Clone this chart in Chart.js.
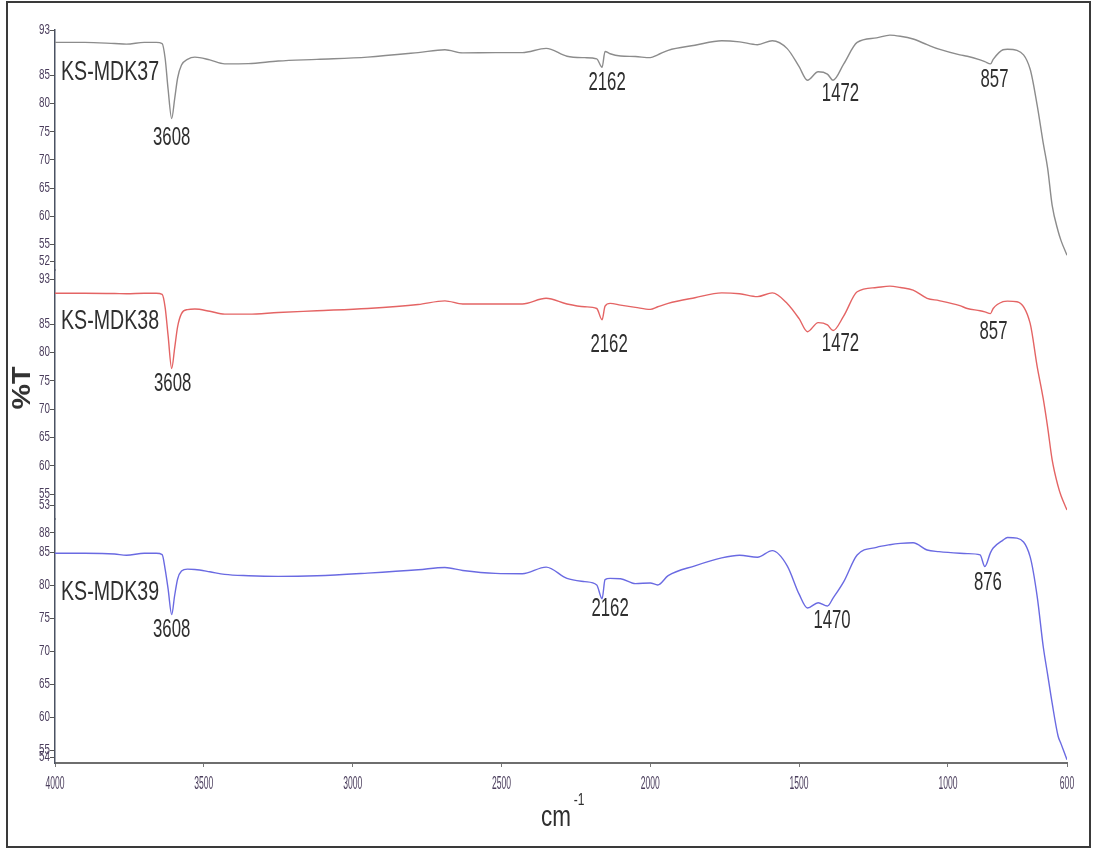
<!DOCTYPE html>
<html>
<head>
<meta charset="utf-8">
<script src="https://cdn.jsdelivr.net/npm/chart.js@4.4.1/dist/chart.umd.min.js"></script>
<style>
  html, body { margin: 0; padding: 0; background: #fff; }
  canvas { display: block; }
</style>
</head>
<body>
<canvas id="grafico-ftir" width="1094" height="850"></canvas>
<script>
// Números de onda (cm-1) comuns aos três espectros
const numerosDeOnda = [
  4000, 3900, 3800, 3760, 3700, 3660, 3640, 3630, 3620, 3608,
  3598, 3588, 3575, 3555, 3530, 3480, 3430, 3350, 3250, 3120,
  2950, 2780, 2690, 2630, 2520, 2430, 2350, 2280, 2220, 2180,
  2162, 2152, 2135, 2100, 2050, 2000, 1975, 1940, 1850, 1760,
  1700, 1640, 1590, 1540, 1500, 1472, 1436, 1405, 1386, 1350,
  1305, 1240, 1195, 1160, 1117, 1070, 1030, 960, 935, 892,
  876, 857, 848, 815, 800, 768, 724, 700, 680, 665,
  650, 630, 620, 600
];

// %T de cada amostra
const transmitancia37 = [
  90.8, 90.8, 90.6, 90.5, 90.8, 90.8, 90.6, 88.0, 82.5, 77.3,
  80.8, 84.5, 86.8, 87.8, 88.2, 87.7, 87.0, 87.05, 87.5, 87.8,
  88.2, 89.0, 89.5, 88.95, 89.0, 89.0, 89.75, 88.35, 88.1, 87.9,
  86.4, 89.2, 88.8, 88.4, 88.3, 88.1, 88.6, 89.4, 90.3, 91.1,
  90.9, 90.4, 91.1, 89.7, 86.5, 84.1, 85.6, 85.2, 84.1, 87.0,
  90.8, 91.6, 92.1, 91.9, 91.4, 90.4, 89.6, 88.6, 88.35, 87.7,
  87.4, 87.0, 87.8, 89.5, 89.6, 89.4, 86.1, 79.6, 73.0, 68.5,
  62.0, 57.4, 55.7, 53.1
];
const transmitancia38 = [
  90.5, 90.5, 90.45, 90.4, 90.5, 90.5, 90.3, 88.0, 83.0, 77.2,
  80.8, 84.6, 86.9, 87.6, 87.7, 87.3, 86.8, 86.8, 87.1, 87.4,
  87.8, 88.5, 89.15, 88.6, 88.6, 88.6, 89.6, 88.6, 88.1, 87.8,
  85.8, 88.2, 88.7, 88.4, 88.0, 87.65, 88.1, 88.7, 89.7, 90.55,
  90.4, 89.9, 90.55, 88.7, 86.0, 83.7, 85.3, 84.9, 83.9, 86.5,
  90.75, 91.5, 91.75, 91.5, 91.05, 89.6, 89.2, 88.3, 87.8, 87.4,
  87.2, 86.9, 87.8, 89.0, 89.1, 89.0, 85.2, 77.5, 71.9, 66.8,
  61.1, 56.4, 54.7, 52.2
];
const transmitancia39 = [
  84.9, 84.9, 84.8, 84.6, 84.9, 84.9, 84.7, 82.5, 79.5, 75.6,
  78.5, 81.0, 82.2, 82.5, 82.45, 82.1, 81.7, 81.5, 81.4, 81.5,
  81.9, 82.4, 82.75, 82.3, 81.85, 81.8, 82.8, 81.1, 80.6, 80.1,
  78.0, 80.9, 81.1, 81.05, 80.3, 80.4, 80.1, 81.5, 83.0, 84.2,
  84.6, 84.3, 85.3, 83.0, 78.7, 76.6, 77.4, 76.9, 78.1, 80.6,
  84.65, 85.8, 86.2, 86.4, 86.5, 85.4, 85.15, 84.9, 84.85, 84.65,
  82.9, 85.0, 85.7, 86.9, 87.3, 87.2, 84.4, 78.3, 70.8, 66.5,
  62.2, 57.2, 56.0, 53.6
];

const amostras = ['KS-MDK37', 'KS-MDK38', 'KS-MDK39'];

// Picos marcados em cada espectro
const picos37 = [3608, 2162, 1472, 857];
const picos38 = [3608, 2162, 1472, 857];
const picos39 = [3608, 2162, 1470, 876];

const ticksX = [4000, 3500, 3000, 2500, 2000, 1500, 1000, 600];
const ticksY37 = [93, 85, 80, 75, 70, 65, 60, 55, 52];
const ticksY38 = [93, 85, 80, 75, 70, 65, 60, 55, 53];
const ticksY39 = [88, 85, 80, 75, 70, 65, 60, 55, 54];

const coresLinhas = ['#8c8c8c', '#e46464', '#6a6ae2'];
const corTexto = '#2f2f2f';
const corTicks = '#4a3d5c';

function pontos(valores) {
  return numerosDeOnda.map((w, i) => ({ x: w, y: valores[i] }));
}

function valorNoPico(valores, pico) {
  let melhor = 0;
  numerosDeOnda.forEach((w, i) => {
    if (Math.abs(w - pico) < Math.abs(numerosDeOnda[melhor] - pico)) melhor = i;
  });
  return valores[melhor];
}

// texto comprimido na horizontal (a fonte do original é bem estreita)
function textoEstreito(ctx, texto, x, y, fonte, escala, alinhamento) {
  ctx.save();
  ctx.translate(x, y);
  ctx.scale(escala, 1);
  ctx.font = fonte;
  ctx.textAlign = alinhamento || 'center';
  ctx.textBaseline = 'middle';
  ctx.fillText(texto, 0, 0);
  ctx.restore();
}

const paineis = [
  { eixo: 'y37', nome: amostras[0], valores: transmitancia37, picos: picos37, ticks: ticksY37,
    desloc: [[0, 19], [5, 16], [33, 14], [4, 16]], nomeTopo: 42 },
  { eixo: 'y38', nome: amostras[1], valores: transmitancia38, picos: picos38, ticks: ticksY38,
    desloc: [[1, 16], [7, 25], [33, 12], [3, 19]], nomeTopo: 51 },
  { eixo: 'y39', nome: amostras[2], valores: transmitancia39, picos: picos39, ticks: ticksY39,
    desloc: [[0, 15], [8, 10], [24, 13], [3, 17]], nomeTopo: 73 }
];

const textosFtir = {
  id: 'textosFtir',
  afterDraw(chart) {
    const ctx = chart.ctx;
    const area = chart.chartArea;
    const escalaX = chart.scales.x;
    ctx.save();
    ctx.fillStyle = corTicks;

    // rótulos dos ticks
    ticksX.forEach(v => {
      textoEstreito(ctx, String(v), escalaX.getPixelForValue(v), area.bottom + 21,
        '19px "Liberation Sans", Arial, sans-serif', 0.45);
    });
    paineis.forEach(p => {
      const escalaY = chart.scales[p.eixo];
      p.ticks.forEach(v => {
        textoEstreito(ctx, String(v), area.left - 5, escalaY.getPixelForValue(v),
          '14px "Liberation Sans", Arial, sans-serif', 0.7, 'right');
      });
    });

    ctx.fillStyle = corTexto;
    paineis.forEach(p => {
      const escalaY = chart.scales[p.eixo];
      // nome da amostra
      textoEstreito(ctx, p.nome, area.left + 6, escalaY.top + p.nomeTopo,
        '28px "Liberation Sans", Arial, sans-serif', 0.7, 'left');
      // números dos picos
      p.picos.forEach((pico, i) => {
        const px = escalaX.getPixelForValue(pico) + p.desloc[i][0];
        const py = escalaY.getPixelForValue(valorNoPico(p.valores, pico)) + p.desloc[i][1];
        textoEstreito(ctx, String(pico), px, py, '25px "Liberation Sans", Arial, sans-serif', 0.67);
      });
    });

    // título do eixo y
    ctx.save();
    ctx.translate(23, 388);
    ctx.rotate(-Math.PI / 2);
    ctx.scale(1.15, 1);
    ctx.font = 'bold 25px "Liberation Sans", Arial, sans-serif';
    ctx.fillStyle = '#333';
    ctx.textAlign = 'center';
    ctx.textBaseline = 'middle';
    ctx.fillText('%T', 0, 0);
    ctx.restore();

    // título do eixo x: cm-1
    textoEstreito(ctx, 'cm', 556, 818, '30px "Liberation Sans", Arial, sans-serif', 0.75);
    textoEstreito(ctx, '-1', 579, 801, '16px "Liberation Sans", Arial, sans-serif', 0.75);

    // moldura
    ctx.strokeStyle = '#3a3a3a';
    ctx.lineWidth = 2;
    ctx.strokeRect(7, 2, 1083, 845);
    ctx.restore();
  }
};

function eixoY(min, max, peso, ticks) {
  return {
    type: 'linear',
    position: 'left',
    stack: 'espectros',
    stackWeight: peso,
    min: min,
    max: max,
    afterBuildTicks: s => { s.ticks = ticks.map(v => ({ value: v })); },
    afterFit: s => { s.width = 30; },
    ticks: { display: false },
    grid: { drawOnChartArea: false, drawTicks: true, tickLength: 5, color: '#555' },
    border: { display: true, color: '#4b5262', width: 1.5 }
  };
}

new Chart(document.getElementById('grafico-ftir').getContext('2d'), {
  type: 'line',
  data: {
    datasets: [
      { label: amostras[0], data: pontos(transmitancia37), yAxisID: 'y37', borderColor: coresLinhas[0] },
      { label: amostras[1], data: pontos(transmitancia38), yAxisID: 'y38', borderColor: coresLinhas[1] },
      { label: amostras[2], data: pontos(transmitancia39), yAxisID: 'y39', borderColor: coresLinhas[2] }
    ]
  },
  options: {
    responsive: false,
    animation: false,
    devicePixelRatio: 1,
    layout: { padding: { left: 25, top: 30, right: 27, bottom: 0 } },
    elements: {
      point: { radius: 0 },
      line: { borderWidth: 1.4, cubicInterpolationMode: 'monotone' }
    },
    plugins: {
      legend: { display: false },
      tooltip: { enabled: false }
    },
    scales: {
      x: {
        type: 'linear',
        reverse: true,
        min: 600,
        max: 4000,
        afterBuildTicks: s => { s.ticks = ticksX.map(v => ({ value: v })); },
        afterFit: s => { s.height = 87; },
        ticks: { display: false },
        grid: { drawOnChartArea: false, drawTicks: true, tickLength: 4, color: '#777' },
        border: { display: true, color: '#6e6e6e', width: 2 }
      },
      // a pilha é montada de baixo para cima
      y39: eixoY(53.1, 90.1, 244, ticksY39),
      y38: eixoY(50.6, 94.6, 249, ticksY38),
      y37: eixoY(50.5, 93, 240, ticksY37)
    }
  },
  plugins: [textosFtir]
});
</script>
</body>
</html>
